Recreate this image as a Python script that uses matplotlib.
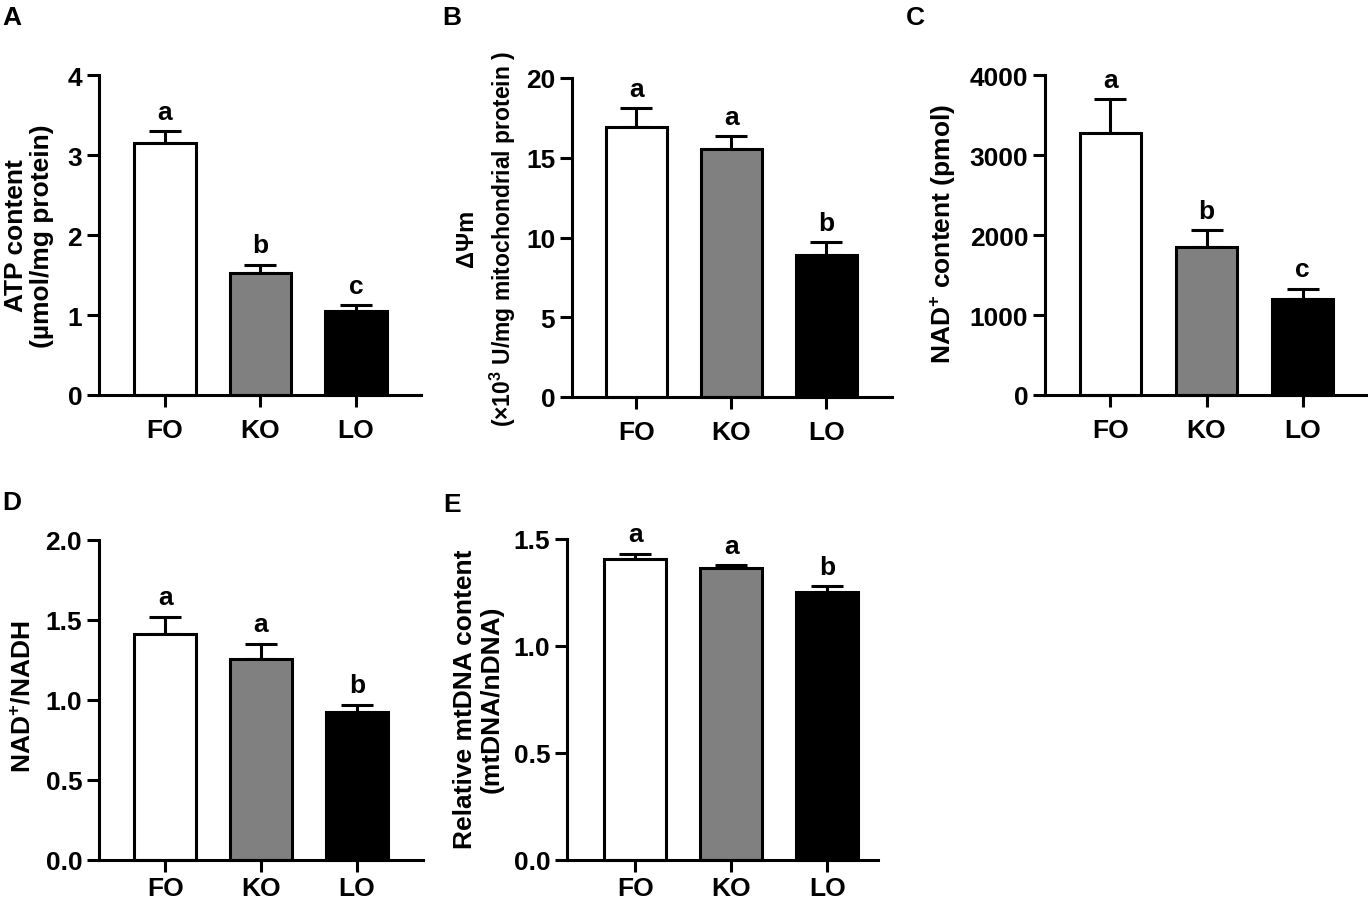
import matplotlib
matplotlib.use("Agg")
import matplotlib.pyplot as plt
import numpy as np

plt.rcParams['font.family'] = ['Liberation Sans', 'DejaVu Sans']
plt.rcParams['font.weight'] = 'bold'
plt.rcParams['mathtext.fontset'] = 'custom'
plt.rcParams['mathtext.rm'] = 'Liberation Sans:bold'
plt.rcParams['mathtext.bf'] = 'Liberation Sans:bold'
plt.rcParams['mathtext.default'] = 'bf'

# ---------------- data ----------------
categories = ['FO', 'KO', 'LO']
bar_colors = ['white', '#808080', 'black']

atp = [3.15, 1.53, 1.05]
atp_err = [0.15, 0.10, 0.075]
atp_letters = ['a', 'b', 'c']

dpsi = [16.9, 15.55, 8.9]
dpsi_err = [1.2, 0.8, 0.8]
dpsi_letters = ['a', 'a', 'b']

nad = [3280, 1850, 1205]
nad_err = [420, 210, 125]
nad_letters = ['a', 'b', 'c']

ratio = [1.415, 1.255, 0.925]
ratio_err = [0.105, 0.095, 0.045]
ratio_letters = ['a', 'a', 'b']

mtdna = [1.405, 1.363, 1.254]
mtdna_err = [0.025, 0.015, 0.025]
mtdna_letters = ['a', 'a', 'b']

W, H = 1368, 903
fig = plt.figure(figsize=(W / 100, H / 100), dpi=100)

FS = 19
LW = 2.2


def px_rect(left, top, right, bottom):
    return [left / W, 1 - bottom / H, (right - left) / W, (bottom - top) / H]


def panel(rect, values, errs, letters, ylim, yticks, yfmt, xlim, xpad=8):
    ax = fig.add_axes(rect)
    x = np.arange(len(categories))
    ax.bar(x, values, width=0.64, color=bar_colors, edgecolor='black',
           linewidth=LW, zorder=2, clip_on=False)
    ax.errorbar(x, values, yerr=[np.zeros(len(values)), errs], fmt='none',
                ecolor='black', elinewidth=LW, capsize=11.5, capthick=LW,
                zorder=1, clip_on=False)
    for xi, v, e, t in zip(x, values, errs, letters):
        ax.annotate(t, (xi, v + e), xytext=(0, 9), textcoords='offset points',
                    ha='center', va='baseline', fontsize=FS, fontweight='bold')
    ax.set_xlim(*xlim)
    ax.set_ylim(*ylim)
    ax.set_yticks(yticks)
    ax.set_yticklabels([yfmt.format(t) for t in yticks])
    ax.set_xticks(x)
    ax.set_xticklabels(categories)
    for s in ['top', 'right']:
        ax.spines[s].set_visible(False)
    for s in ['left', 'bottom']:
        ax.spines[s].set_linewidth(LW)
    ax.tick_params(axis='y', length=8.6, width=LW, pad=3.5, labelsize=FS)
    ax.tick_params(axis='x', length=8.6, width=LW, pad=xpad, labelsize=FS)
    for lab in ax.get_xticklabels() + ax.get_yticklabels():
        lab.set_fontweight('bold')
    ax.patch.set_visible(False)
    return ax


# Panel A
panel(px_rect(99, 76, 421, 396), atp, atp_err, atp_letters, (0, 4),
      [0, 1, 2, 3, 4], '{:g}', (-0.69, 2.68))
fig.text(29 / W, 1 - 236 / H, 'ATP content\n(µmol/mg protein)', rotation=90,
         ha='center', va='center', multialignment='center', fontsize=FS,
         fontweight='bold', linespacing=1.15)

# Panel B
panel(px_rect(572, 79, 892, 398), dpsi, dpsi_err, dpsi_letters, (0, 20),
      [0, 5, 10, 15, 20], '{:g}', (-0.677, 2.69))
fig.text(467 / W, 1 - 238 / H, 'ΔΨm', rotation=90, ha='center', va='center',
         fontsize=17, fontweight='bold')
fig.text(503 / W, 1 - 239 / H, r'(×10$^{3}$ U/mg mitochondrial protein )',
         rotation=90, ha='center', va='center', fontsize=16.5, fontweight='bold')

# Panel C
panel(px_rect(1045, 76, 1368, 396), nad, nad_err, nad_letters, (0, 4000),
      [0, 1000, 2000, 3000, 4000], '{:g}', (-0.68, 2.68))
fig.text(943 / W, 1 - 234 / H, r'NAD$^{+}$ content (pmol)', rotation=90,
         ha='center', va='center', fontsize=FS, fontweight='bold')

# Panel D
panel(px_rect(99, 541, 423, 861), ratio, ratio_err, ratio_letters, (0, 2.0),
      [0.0, 0.5, 1.0, 1.5, 2.0], '{:.1f}', (-0.69, 2.69), xpad=3)
fig.text(23 / W, 1 - 697 / H, r'NAD$^{+}$/NADH', rotation=90,
         ha='center', va='center', fontsize=FS, fontweight='bold')

# Panel E
panel(px_rect(567, 540, 878, 861), mtdna, mtdna_err, mtdna_letters, (0, 1.5),
      [0.0, 0.5, 1.0, 1.5], '{:.1f}', (-0.71, 2.53), xpad=3)
fig.text(478 / W, 1 - 699 / H, 'Relative mtDNA content\n(mtDNA/nDNA)',
         rotation=90, ha='center', va='center', multialignment='center',
         fontsize=FS, fontweight='bold', linespacing=1.15)

# Panel letters
for letter, (lx, ly) in zip(['A', 'B', 'C', 'D', 'E'],
                            [(2, 6), (442, 6), (906, 6), (2, 491), (443, 493)]):
    fig.text(lx / W, 1 - ly / H, letter, ha='left', va='top', fontsize=FS,
             fontweight='bold')

fig.savefig('out.png', dpi=100)
